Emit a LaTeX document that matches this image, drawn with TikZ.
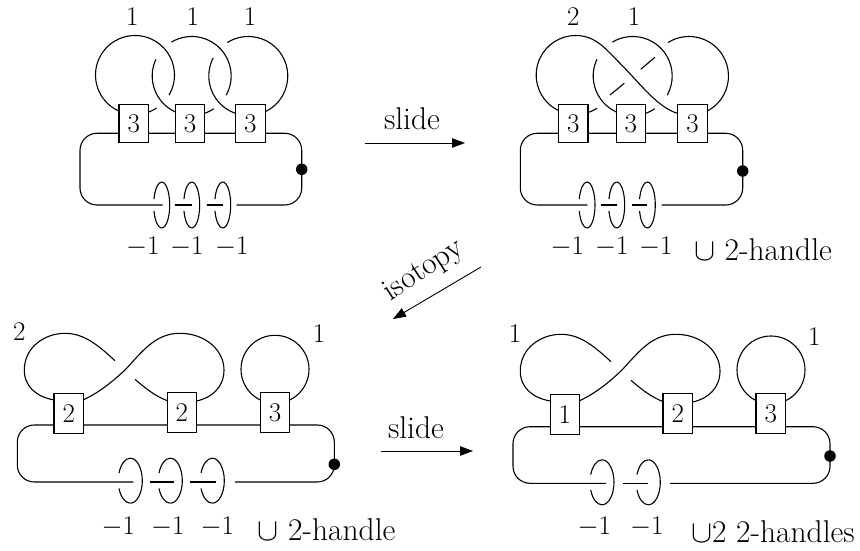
\documentclass[tikz,border=0pt]{standalone}
\usepackage{fix-cm}
\usetikzlibrary{arrows.meta}

\begin{document}
\begin{tikzpicture}
      [x=1pt,y=1pt,line width=1.1pt,>={Triangle[length=13,width=9.5]},
       font=\fontsize{27}{31}\selectfont,
       framebox/.style={rectangle,draw,fill=white,inner sep=0pt,minimum width=29.5,minimum height=38},
       handledot/.style={circle,fill=black,inner sep=0pt,minimum size=11.5},
       band/.style={rounded corners=17},
       move/.style={->,line width=0.9pt},
       word/.style={font=\fontsize{31.5}{36}\selectfont},
       ring/.pic={
         \draw (0,23) arc[start angle=90,end angle=-90,x radius=8,y radius=23] ;
         \draw (0,23) arc[start angle=90,end angle=165,x radius=8,y radius=23] ;
         \draw (0,-23) arc[start angle=270,end angle=195,x radius=8,y radius=23] ;
       },
       widering/.pic={
         \draw (0,22.5) arc[start angle=90,end angle=-90,x radius=12,y radius=22.5] ;
         \draw (0,22.5) arc[start angle=90,end angle=160,x radius=12,y radius=22.5] ;
         \draw (0,-22.5) arc[start angle=270,end angle=200,x radius=12,y radius=22.5] ;
       }]
      \useasboundingbox (0,0) rectangle (860,550) ;
      % top left
      \coordinate (ca) at (135,475) ;
      \coordinate (cb) at (191.7,474) ;
      \coordinate (cc) at (248.3,474) ;
      \draw (ca) ++(245:39.5) arc[start angle=245,end angle=-30.5,radius=39.5] ;
      \draw (ca) ++(-75:39.5) arc[start angle=-75,end angle=-57,radius=39.5] ;
      \draw (cb) ++(245:39.5) arc[start angle=245,end angle=155,radius=39.5] ;
      \draw (cb) ++(121:39.5) arc[start angle=121,end angle=-29,radius=39.5] ;
      \draw (cb) ++(-75:39.5) arc[start angle=-75,end angle=-56,radius=39.5] ;
      \draw (cc) ++(251:39.5) arc[start angle=251,end angle=153,radius=39.5] ;
      \draw (cc) ++(122:39.5) arc[start angle=122,end angle=-70,radius=39.5] ;
      \coordinate (a1) at (162.7,345) ;
      \coordinate (a2) at (175.3,345) ;
      \coordinate (a3) at (192,345) ;
      \coordinate (a4) at (206.7,345) ;
      \coordinate (a5) at (223.3,345) ;
      \coordinate (a6) at (236.7,345) ;
      \coordinate (asw) at (80,345) ;
      \coordinate (anw) at (80,416.7) ;
      \coordinate (ane) at (301.7,416.7) ;
      \coordinate (ase) at (301.7,345) ;
      \draw[band] (a1) -- (asw) -- (anw) -- (ane) -- (ase) -- (a6) ;
      \draw (a2) -- (a3) ;
      \draw (a4) -- (a5) ;
      \pic at (161.7,345) {ring} ;
      \pic at (191.7,345) {ring} ;
      \pic at (222.7,345) {ring} ;
      \node[framebox] (abox1) at (133.7,426.5) {3} ;
      \node[framebox] (abox2) at (190,426.5) {3} ;
      \node[framebox] (abox3) at (250.3,426.5) {3} ;
      \node[handledot] (adot) at (301.7,380.7) {} ;
      \node (afr1) at (132.3,533.3) {1} ;
      \node (afr2) at (192.7,533.3) {1} ;
      \node (afr3) at (250,533.3) {1} ;
      \node (ano1) at (142.7,303.3) {$-1$} ;
      \node (ano2) at (186.7,303.3) {$-1$} ;
      \node (ano3) at (231.7,303.3) {$-1$} ;
      % top right
      \coordinate (cd) at (575.7,475) ;
      \coordinate (ce) at (632.7,474) ;
      \coordinate (cf) at (689,474) ;
      \draw (cd) ++(245:39.5) arc[start angle=245,end angle=90,radius=39.5]
        .. controls (595,514.5) and (605,502) .. (620,486.7)
        .. controls (640,466.7) and (657,443) .. (677.3,436.7) ;
      \draw (cd) ++(-75:39.5) arc[start angle=-75,end angle=-57,radius=39.5] ;
      \draw (ce) ++(245:39.5) arc[start angle=245,end angle=155,radius=39.5] ;
      \draw (ce) ++(121:39.5) arc[start angle=121,end angle=-29,radius=39.5] ;
      \draw (ce) ++(-75:39.5) arc[start angle=-75,end angle=-56,radius=39.5] ;
      \draw (cf) ++(122:39.5) arc[start angle=122,end angle=-68,radius=39.5] ;
      \draw (610,455) -- (624.3,466.7) ;
      \draw (640.7,480.7) -- (655,492.7) ;
      \coordinate (b1) at (587.3,345) ;
      \coordinate (b2) at (600.7,345) ;
      \coordinate (b3) at (616.7,345) ;
      \coordinate (b4) at (631.7,345) ;
      \coordinate (b5) at (647.3,345) ;
      \coordinate (b6) at (661.7,345) ;
      \coordinate (bsw) at (520.3,345) ;
      \coordinate (bnw) at (520.3,416.7) ;
      \coordinate (bne) at (742.7,416.7) ;
      \coordinate (bse) at (742.7,345) ;
      \draw[band] (b1) -- (bsw) -- (bnw) -- (bne) -- (bse) -- (b6) ;
      \draw (b2) -- (b3) ;
      \draw (b4) -- (b5) ;
      \pic at (587,345) {ring} ;
      \pic at (616.7,345) {ring} ;
      \pic at (647.3,345) {ring} ;
      \node[framebox] (bbox1) at (573.2,426.5) {3} ;
      \node[framebox] (bbox2) at (630.8,426.5) {3} ;
      \node[framebox] (bbox3) at (692.5,426.5) {3} ;
      \node[handledot] (bdot) at (742.7,379) {} ;
      \node (bfr1) at (573.3,533.3) {2} ;
      \node (bfr2) at (634,533.3) {1} ;
      \node (bno1) at (567.3,303) {$-1$} ;
      \node (bno2) at (611.7,303) {$-1$} ;
      \node (bno3) at (655.7,303) {$-1$} ;
      \node[word] (bcup) at (763,300) {$\cup$ 2-handle} ;
      % bottom left
      \draw (54.3,150) .. controls (37,153) and (24.3,163) .. (24.3,180)
        .. controls (24.3,203) and (45,216.7) .. (65,216.7)
        .. controls (85,216.7) and (100,203) .. (115,189.3) ;
      \draw (135,170.7) .. controls (145,162) and (155,154) .. (167.3,149.3) ;
      \draw (83,150) .. controls (100,158) and (112,168) .. (125,180)
        .. controls (142,198) and (155,216.7) .. (180,216.7)
        .. controls (205,216.7) and (224,200) .. (224,180)
        .. controls (224,163) and (212,152) .. (196.3,149) ;
      \draw (275,180.7) circle[radius=34] ;
      \coordinate (c1) at (133.3,68) ;
      \coordinate (c2) at (150,68) ;
      \coordinate (c3) at (174,68) ;
      \coordinate (c4) at (190,68) ;
      \coordinate (c5) at (216,68) ;
      \coordinate (c6) at (235,68) ;
      \coordinate (csw) at (17.3,68) ;
      \coordinate (cnw) at (17.3,125) ;
      \coordinate (cne) at (334.3,125) ;
      \coordinate (cse) at (334.3,68) ;
      \draw[band] (c1) -- (csw) -- (cnw) -- (cne) -- (cse) -- (c6) ;
      \draw (c2) -- (c3) ;
      \draw (c4) -- (c5) ;
      \pic at (130.3,69.3) {widering} ;
      \pic at (170.3,69.3) {widering} ;
      \pic at (212.3,69.3) {widering} ;
      \node[framebox,minimum height=40] (cbox1) at (68.7,136.7) {2} ;
      \node[framebox,minimum height=40] (cbox2) at (181.8,137.7) {2} ;
      \node[framebox,minimum height=40] (cbox3) at (275,137.7) {3} ;
      \node[handledot] (cdot) at (334.3,85.7) {} ;
      \node (cfr1) at (19.3,218.3) {2} ;
      \node (cfr2) at (319,216) {1} ;
      \node (cno1) at (118.3,23.3) {$-1$} ;
      \node (cno2) at (167.7,23.3) {$-1$} ;
      \node (cno3) at (217.3,23.3) {$-1$} ;
      \node[word] (ccup) at (326.5,20) {$\cup$ 2-handle} ;
      % bottom right
      \begin{scope}[xshift=496pt,yshift=-1pt]
      \draw (54.3,150) .. controls (37,153) and (24.3,163) .. (24.3,180)
        .. controls (24.3,203) and (45,216.7) .. (65,216.7)
        .. controls (85,216.7) and (100,203) .. (115,189.3) ;
      \draw (135,170.7) .. controls (145,162) and (155,154) .. (167.3,149.3) ;
      \draw (83,150) .. controls (100,158) and (112,168) .. (125,180)
        .. controls (142,198) and (155,216.7) .. (180,216.7)
        .. controls (205,216.7) and (224,200) .. (224,180)
        .. controls (224,163) and (212,152) .. (196.3,149) ;
      \end{scope}
      \draw (771,180) circle[radius=34] ;
      \coordinate (d1) at (606,66.7) ;
      \coordinate (d2) at (623.3,66.7) ;
      \coordinate (d3) at (648.3,66.7) ;
      \coordinate (d4) at (670,66.7) ;
      \coordinate (dsw) at (513,66.7) ;
      \coordinate (dnw) at (513,123.3) ;
      \coordinate (dne) at (830,123.3) ;
      \coordinate (dse) at (830,66.7) ;
      \draw[band] (d1) -- (dsw) -- (dnw) -- (dne) -- (dse) -- (d4) ;
      \draw (d2) -- (d3) ;
      \pic at (602,67.7) {widering} ;
      \pic at (648.3,67.7) {widering} ;
      \node[framebox,minimum height=40] (dbox1) at (564.8,135.7) {1} ;
      \node[framebox,minimum height=40] (dbox2) at (677.7,136.7) {2} ;
      \node[framebox,minimum height=40] (dbox3) at (770.7,136.7) {3} ;
      \node[handledot] (ddot) at (830,94) {} ;
      \node (dfr1) at (515,216.7) {1} ;
      \node (dfr2) at (814.3,213.3) {1} ;
      \node (dno1) at (594.3,23.3) {$-1$} ;
      \node (dno2) at (646.7,23.3) {$-1$} ;
      \node[word] (dcup) at (773,18.3) {$\cup$2 2-handles} ;
      % moves
      \coordinate (m1a) at (365,407) ;
      \coordinate (m1b) at (465,407) ;
      \coordinate (m2a) at (481,283) ;
      \coordinate (m2b) at (393,231) ;
      \coordinate (m3a) at (381,99) ;
      \coordinate (m3b) at (473,99) ;
      \draw[move] (m1a) to (m1b) ;
      \draw[move] (m2a) to (m2b) ;
      \draw[move] (m3a) to (m3b) ;
      \node[word] (slide1) at (412,431) {slide} ;
      \node[word,rotate=33] (iso) at (424,279) {isotopy} ;
      \node[word] (slide2) at (416,122) {slide} ;
    \end{tikzpicture}
\end{document}
